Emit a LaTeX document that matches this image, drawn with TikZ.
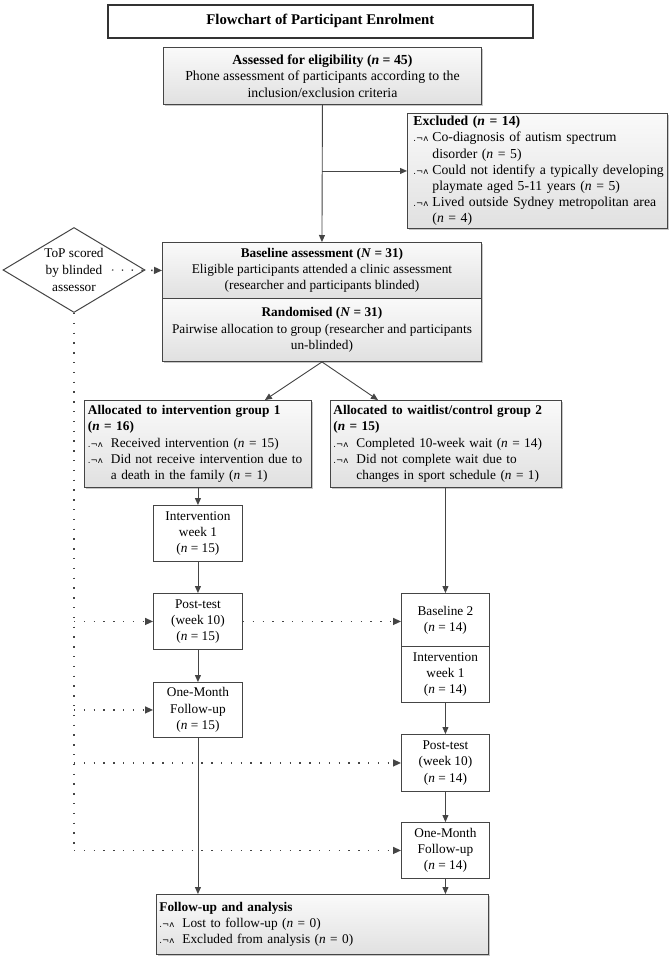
\documentclass[tikz,border=0pt]{standalone}
\usepackage{fontspec}
\setmainfont{Liberation Serif}
\newfontfamily\bulfont{DejaVu Sans}
\usetikzlibrary{arrows.meta,shapes.geometric,shadows,calc}
\definecolor{linec}{HTML}{454545}
\newcommand\bl[1][23pt]{\makebox[#1][l]{\bulfont\fontsize{8.5}{7}\selectfont .¬ʌ}}
\newcommand\nn{\textit{n}}
\tikzset{
  basebox/.style={draw=linec, line width=0.9pt, inner sep=0pt, anchor=north west, align=center},
  plainbox/.style={basebox, fill=white},
  greybox/.style={basebox, top color=black!2, bottom color=black!12,
    drop shadow={shadow xshift=2pt, shadow yshift=-2pt, fill=black, opacity=0.22}},
  sz/.style 2 args={minimum width=#1pt, minimum height=#2pt},
  lefttext/.style 2 args={align=left, inner xsep=#2pt, text width=#1pt-2*#2pt},
  arr/.style={draw=linec, line width=0.9pt, -{Triangle[length=7pt,width=6pt]}},
  dotline/.style={draw=linec, line width=1.4pt, dash pattern=on 1.4pt off 8.4pt},
  dotarr/.style={dotline, -{Triangle[length=8pt,width=7pt]}},
}
\begin{document}
\begin{tikzpicture}[x=1pt,y=-1pt,font=\fontsize{13.3}{16.3}\selectfont]
\useasboundingbox[fill=white] (0,0) rectangle (670,959);

% title
\node[plainbox, sz={425}{33}, line width=1.6pt, draw=black!80, font=\fontsize{14.8}{16.3}\selectfont] (title) at (107,4)
  {\textbf{Flowchart of Participant Enrolment}};

% assessed
\node[greybox, sz={318}{57}, font=\fontsize{13.8}{16.5}\selectfont] (assess) at (163,47)
  {\textbf{Assessed for eligibility (\nn{} = 45)}\\Phone assessment of participants according to the\\inclusion/exclusion criteria};

% excluded
\node[greybox, sz={260}{115}, lefttext={260}{6}, font=\fontsize{13.7}{16.2}\selectfont] (excl) at (407,113)
  {\mbox{\textbf{Excluded (\nn{} = 14)}}\\
   \mbox{\bl[19pt]Co-diagnosis of autism spectrum}\\
   \mbox{\hspace*{19pt}disorder (\nn{} = 5)}\\
   \mbox{\bl[19pt]Could not identify a typically developing}\\
   \mbox{\hspace*{19pt}playmate aged 5-11 years (\nn{} = 5)}\\
   \mbox{\bl[19pt]Lived outside Sydney metropolitan area}\\
   \mbox{\hspace*{19pt}(\nn{} = 4)}};

% baseline / randomised
\node[greybox, sz={319}{56}] (base) at (162,242)
  {\textbf{Baseline assessment (\textit{N} = 31)}\\Eligible participants attended a clinic assessment\\(researcher and participants blinded)};
\node[greybox, sz={319}{63}] (rand) at (162,298)
  {\textbf{Randomised (\textit{N} = 31)}\\Pairwise allocation to group (researcher and participants\\un-blinded)};

% diamond
\node[diamond, draw=linec, line width=1pt, fill=white, minimum width=142pt, minimum height=85pt,
  inner sep=0pt, aspect=1.67, align=center, font=\fontsize{13.3}{16.7}\selectfont] (diam) at (74,270)
  {ToP scored\\by blinded\\assessor};

% allocation boxes
\node[greybox, sz={227}{87}, lefttext={227}{3.5}] (lalloc) at (84,400)
  {\textbf{Allocated to intervention group 1}\\
   \textbf{(\nn{} = 16)}\\
   \bl Received intervention (\nn{} = 15)\\
   \bl Did not receive intervention due to\\
   \hspace*{23pt}a death in the family (\nn{} = 1)};
\node[greybox, sz={231}{87}, lefttext={231}{3}] (ralloc) at (330,400)
  {\textbf{Allocated to waitlist/control group 2}\\
   \textbf{(\nn{} = 15)}\\
   \bl Completed 10-week wait (\nn{} = 14)\\
   \bl Did not complete wait due to\\
   \hspace*{23pt}changes in sport schedule (\nn{} = 1)};

% left column
\node[plainbox, sz={89}{56}] (lint) at (153,505) {Intervention\\week 1\\(\nn{} = 15)};
\node[plainbox, sz={89}{56}] (lpost) at (153,593) {Post-test\\(week 10)\\(\nn{} = 15)};
\node[plainbox, sz={89}{55}] (lone) at (153,682) {One-Month\\Follow-up\\(\nn{} = 15)};

% right column
\node[plainbox, sz={88}{53}] (rbase) at (401,593) {Baseline 2\\(\nn{} = 14)};
\node[plainbox, sz={88}{56}] (rint) at (401,646) {Intervention\\week 1\\(\nn{} = 14)};
\node[plainbox, sz={88}{57}] (rpost) at (401,734) {Post-test\\(week 10)\\(\nn{} = 14)};
\node[plainbox, sz={88}{56}] (rone) at (401,822) {One-Month\\Follow-up\\(\nn{} = 14)};

% follow-up
\node[greybox, sz={332}{60}, lefttext={332}{3}] (follow) at (156,894)
  {\textbf{Follow-up and analysis}\\
   \bl Lost to follow-up (\nn{} = 0)\\
   \bl Excluded from analysis (\nn{} = 0)};

% solid connectors
\draw[arr] (assess.south) -- (base.north);
\draw[arr] (assess.south |- excl.west) -- (excl.west);
\draw[arr] (rand.south) -- ($(lalloc.north east)+(-47,0)$);
\draw[arr] (rand.south) -- ($(ralloc.north west)+(48,0)$);
\draw[arr] (lalloc.south) -- (lint.north);
\draw[arr] (lint.south) -- (lpost.north);
\draw[arr] (lpost.south) -- (lone.north);
\draw[arr] (lone.south) -- (lone.south |- follow.north);
\draw[arr] (ralloc.south -| rbase.north) -- (rbase.north);
\draw[arr] (rint.south) -- (rpost.north);
\draw[arr] (rpost.south) -- (rone.north);
\draw[arr] (rone.south) -- (rone.south |- follow.north);

% dotted connectors
\coordinate (dstart) at ($(diam.center)+(38,0)$);
\draw[dotarr] (dstart) -- (base.west);
\draw[dotline] (diam.south) -- (diam.south |- rone.west);
\draw[dotarr] (diam.south |- lpost.west) -- (lpost.west);
\draw[dotarr] (diam.south |- lone.west) -- (lone.west);
\draw[dotarr] (diam.south |- rpost.west) -- (rpost.west);
\draw[dotarr] (diam.south |- rone.west) -- (rone.west);
\draw[dotarr] (lpost.east) -- (lpost.east -| rbase.west);
\end{tikzpicture}
\end{document}
